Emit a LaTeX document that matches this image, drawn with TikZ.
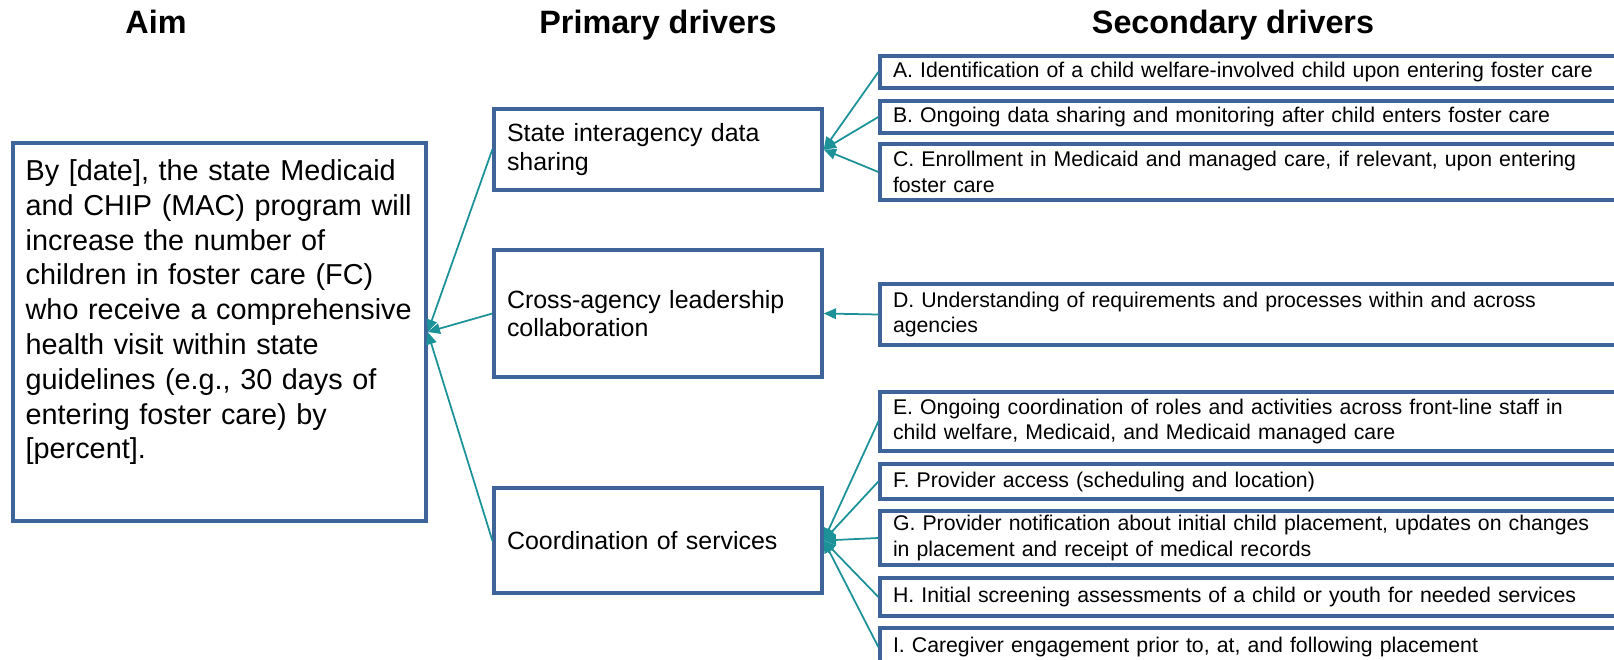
\documentclass[tikz,border=0pt]{standalone}
\usepackage{fontspec}
\setmainfont{Liberation Sans}
\usetikzlibrary{arrows.meta,positioning}
\definecolor{boxblue}{RGB}{62,100,154}
\definecolor{linkteal}{RGB}{28,146,152}
\tikzset{
  headline/.style = {font=\fontsize{18.4}{22}\selectfont\bfseries, anchor=base},
  framebox/.style = {draw=boxblue, line width=1.9pt, fill=white},
  aimbox/.style   = {framebox, minimum width=8.26cm, minimum height=7.56cm},
  aimtext/.style  = {text width=7.9cm, inner sep=0pt, align=left,
                     font=\fontsize{16.4}{19.8}\selectfont},
  pribox/.style   = {framebox, text width=6.04cm, inner xsep=0.26cm, inner ysep=1pt,
                     align=left, font=\fontsize{14.2}{16.2}\selectfont},
  secbox/.style   = {framebox, text width=14.48cm, inner xsep=0.26cm, inner ysep=1pt,
                     align=left, font=\fontsize{12.1}{14.6}\selectfont},
  link/.style     = {draw=linkteal, line width=1pt, -{Triangle[length=7pt,width=6pt]}},
}

\begin{document}
\begin{tikzpicture}
  \useasboundingbox (0,0) rectangle (32.28,-13.2);
  \clip (0,0) rectangle (32.28,-13.2);

  % ---- column heads ------------------------------------------------------
  \node[headline] (hAim) at (3.12,-0.68) {Aim};
  \node[headline] (hPri) at (13.16,-0.68) {Primary drivers};
  \node[headline] (hSec) at (24.66,-0.68) {Secondary drivers};

  % ---- aim ---------------------------------------------------------------
  \node[aimbox] (aim) at (4.39,-6.64) {};
  \node[aimtext, anchor=north west] (aimtxt) at ([xshift=0.28cm,yshift=-0.36cm]aim.north west)
    {By [date], the state Medicaid\\
     and CHIP (MAC) program will\\
     increase the number of\\
     children in foster care (FC)\\
     who receive a comprehensive\\
     health visit within state\\
     guidelines (e.g., 30 days of\\
     entering foster care) by\\
     {[percent].}};

  % ---- primary drivers ---------------------------------------------------
  \node[pribox, minimum height=1.62cm] (pri1) at (13.16,-2.99)
    {State interagency data\\ sharing};
  \node[pribox, minimum height=2.54cm] (pri2) at (13.16,-6.27)
    {Cross-agency leadership\\ collaboration};
  \node[pribox, minimum height=2.10cm] (pri3) at (13.16,-10.81)
    {Coordination of services};

  % ---- secondary drivers (they run past the right edge) ------------------
  \node[secbox, minimum height=0.64cm] (secA) at (25.1,-1.44)
    {A. Identification of a child welfare-involved child upon entering foster care};
  \node[secbox, minimum height=0.64cm] (secB) at (25.1,-2.34)
    {B. Ongoing data sharing and monitoring after child enters foster care};
  \node[secbox, minimum height=1.12cm] (secC) at (25.1,-3.44)
    {C. Enrollment in Medicaid and managed care, if relevant, upon entering\\ foster care};
  \node[secbox, minimum height=1.22cm] (secD) at (25.1,-6.29)
    {D. Understanding of requirements and processes within and across\\ agencies};
  \node[secbox, minimum height=1.18cm] (secE) at (25.1,-8.43)
    {E. Ongoing coordination of roles and activities across front-line staff in\\
     child welfare, Medicaid, and Medicaid managed care};
  \node[secbox, minimum height=0.70cm] (secF) at (25.1,-9.63)
    {F. Provider access (scheduling and location)};
  \node[secbox, minimum height=1.08cm] (secG) at (25.1,-10.76)
    {G. Provider notification about initial child placement, updates on changes\\
     in placement and receipt of medical records};
  \node[secbox, minimum height=0.76cm] (secH) at (25.1,-11.94)
    {H. Initial screening assessments of a child or youth for needed services};
  \node[secbox, minimum height=0.76cm] (secI) at (25.1,-12.94)
    {I. Caregiver engagement prior to, at, and following placement};

  % ---- links -------------------------------------------------------------
  \foreach \s in {A,B,C} { \draw[link] (sec\s.west) -- (pri1.east); }
  \draw[link] (secD.west) -- (pri2.east);
  \foreach \s in {E,F,G,H,I} { \draw[link] (sec\s.west) -- (pri3.east); }
  \foreach \p in {1,2,3} { \draw[link] (pri\p.west) -- (aim.east); }
\end{tikzpicture}
\end{document}
